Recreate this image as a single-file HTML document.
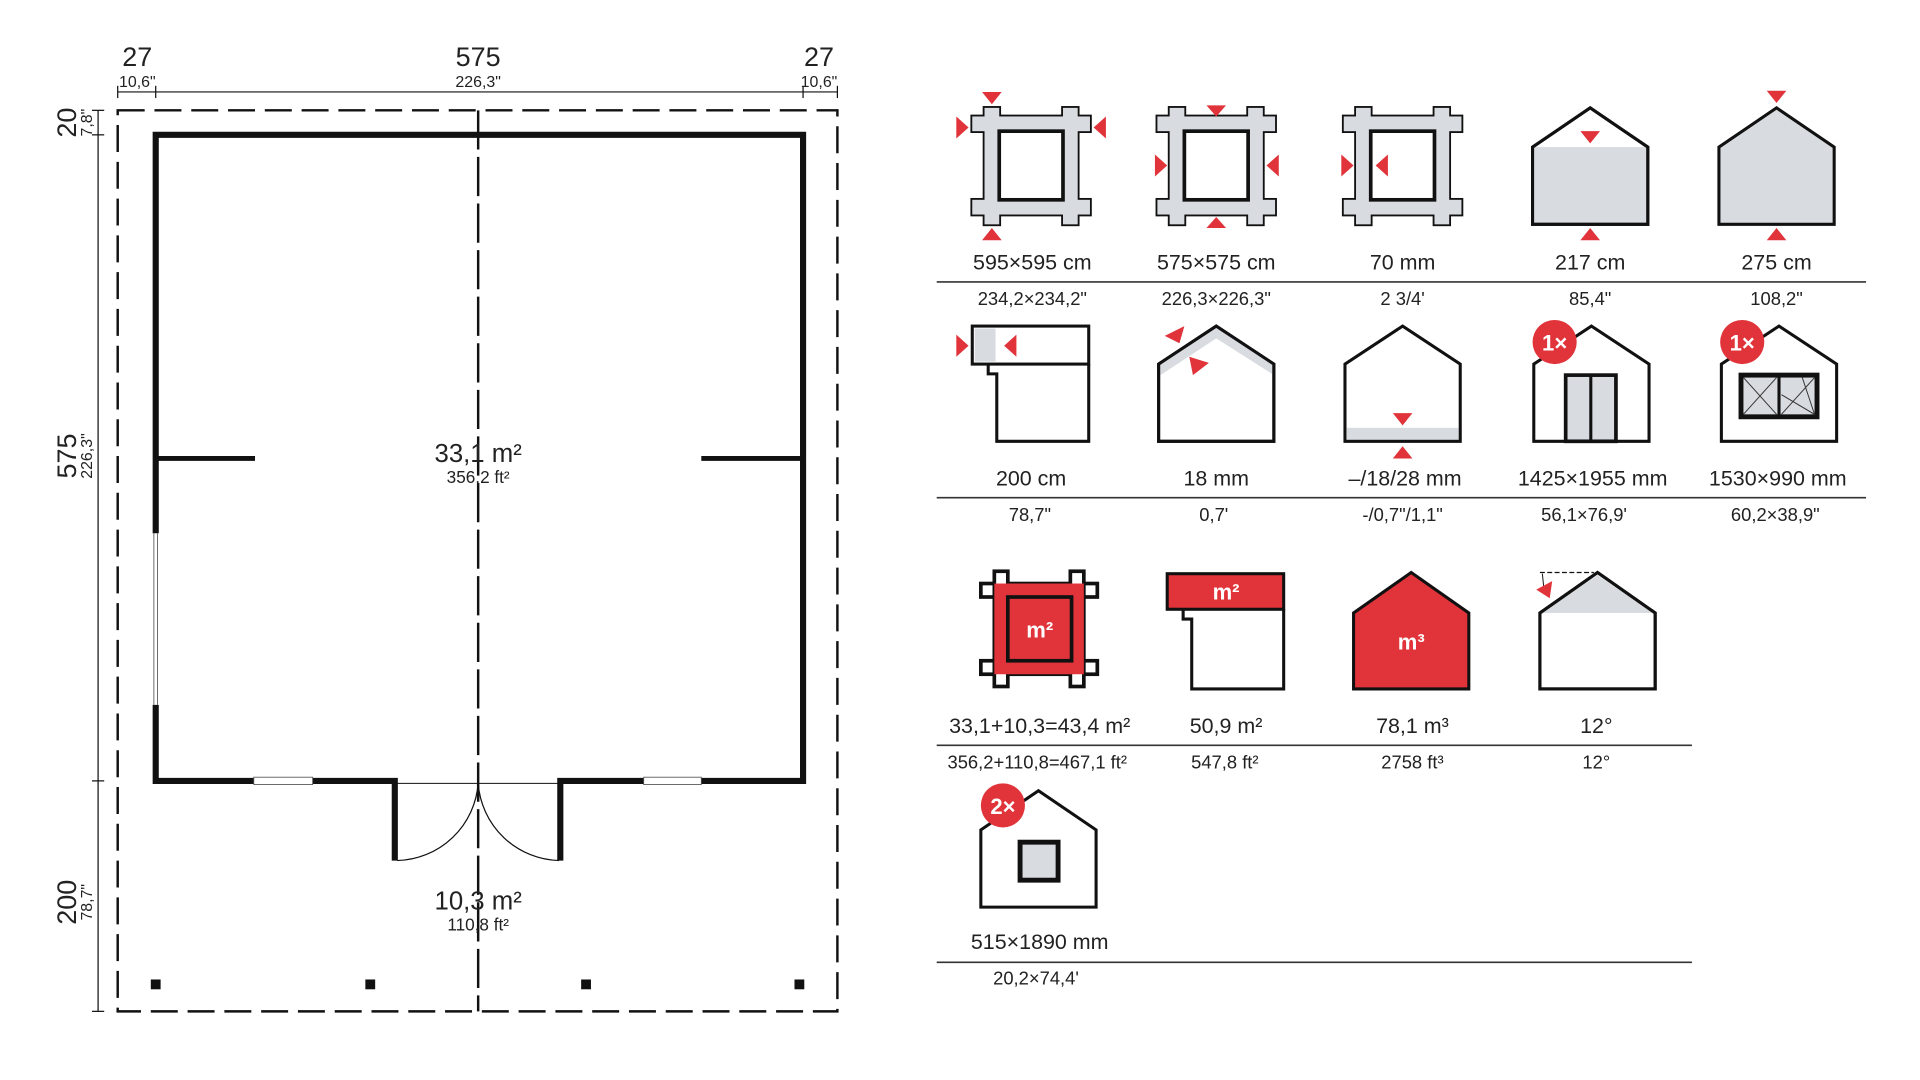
<!DOCTYPE html>
<html><head><meta charset="utf-8"><style>
html,body{margin:0;padding:0;background:#fff;}
svg{display:block;}
text{font-family:"Liberation Sans",sans-serif;fill:#222;}
</style></head><body>
<svg width="1920" height="1080" viewBox="0 0 1566 881" preserveAspectRatio="none" xmlns="http://www.w3.org/2000/svg">
<defs>
<g id="frame">
 <rect x="-48" y="7" width="96" height="12" fill="#d8dbe0" stroke="#111" stroke-width="3"/>
 <rect x="-48" y="75" width="96" height="12" fill="#d8dbe0" stroke="#111" stroke-width="3"/>
 <rect x="-38" y="0" width="12" height="95" fill="#d8dbe0" stroke="#111" stroke-width="3"/>
 <rect x="26" y="0" width="12" height="95" fill="#d8dbe0" stroke="#111" stroke-width="3"/>
 <rect x="-48" y="7" width="96" height="12" fill="#d8dbe0"/>
 <rect x="-48" y="75" width="96" height="12" fill="#d8dbe0"/>
 <rect x="-38" y="0" width="12" height="95" fill="#d8dbe0"/>
 <rect x="26" y="0" width="12" height="95" fill="#d8dbe0"/>
 <rect x="-26" y="19" width="52" height="56" fill="#fff" stroke="#111" stroke-width="3"/>
</g>
</defs>

<!-- ===== Floor plan ===== -->
<g stroke="#111" fill="none">
 <rect x="96" y="90" width="587" height="735" stroke-width="2" stroke-dasharray="22,8"/>
 <line x1="390" y1="90" x2="390" y2="825" stroke-width="2" stroke-dasharray="32,6"/>
 <line x1="96" y1="75" x2="683" y2="75" stroke-width="1"/>
 <line x1="96" y1="70" x2="96" y2="80" stroke-width="1"/>
 <line x1="127" y1="70" x2="127" y2="80" stroke-width="1"/>
 <line x1="655" y1="70" x2="655" y2="80" stroke-width="1"/>
 <line x1="683" y1="70" x2="683" y2="80" stroke-width="1"/>
 <line x1="80" y1="90" x2="80" y2="825" stroke-width="1"/>
 <line x1="75" y1="90" x2="85" y2="90" stroke-width="1"/>
 <line x1="75" y1="110" x2="85" y2="110" stroke-width="1"/>
 <line x1="75" y1="637" x2="85" y2="637" stroke-width="1"/>
 <line x1="75" y1="825" x2="85" y2="825" stroke-width="1"/>
 <path d="M322,702 V637 H127 V110 H655 V637 H457 V702" stroke-width="5" stroke-linejoin="miter"/>
 <line x1="127" y1="374" x2="208" y2="374" stroke-width="4"/>
 <line x1="572" y1="374" x2="655" y2="374" stroke-width="4"/>
 <line x1="322" y1="639" x2="457" y2="639" stroke-width="0.8"/>
 <path d="M390,639 A68,68 0 0 1 324,702" stroke-width="1"/>
 <path d="M390,639 A68,68 0 0 0 456,702" stroke-width="1"/>
</g>
<rect x="124" y="435" width="6" height="140" fill="#fff"/>
<line x1="125.5" y1="435" x2="125.5" y2="575" stroke="#555" stroke-width="0.7"/>
<line x1="128.5" y1="435" x2="128.5" y2="575" stroke="#555" stroke-width="0.7"/>
<rect x="207" y="634" width="48" height="6" fill="#fff" stroke="#555" stroke-width="0.7"/>
<rect x="525" y="634" width="47" height="6" fill="#fff" stroke="#555" stroke-width="0.7"/>
<g fill="#111">
 <rect x="123" y="799" width="8" height="8"/><rect x="298" y="799" width="8" height="8"/>
 <rect x="474" y="799" width="8" height="8"/><rect x="648" y="799" width="8" height="8"/>
</g>
<g text-anchor="middle">
 <text x="112" y="54" font-size="22">27</text><text x="112" y="71" font-size="13">10,6"</text>
 <text x="390" y="54" font-size="22">575</text><text x="390" y="71" font-size="13">226,3"</text>
 <text x="668" y="54" font-size="22">27</text><text x="668" y="71" font-size="13">10,6"</text>
 <text transform="translate(62,100) rotate(-90)" font-size="22">20</text>
 <text transform="translate(75,100) rotate(-90)" font-size="13">7,8"</text>
 <text transform="translate(62,372) rotate(-90)" font-size="22">575</text>
 <text transform="translate(75,372) rotate(-90)" font-size="13">226,3"</text>
 <text transform="translate(62,736) rotate(-90)" font-size="22">200</text>
 <text transform="translate(75,736) rotate(-90)" font-size="13">78,7"</text>
 <text x="390" y="377" font-size="21">33,1 m²</text><text x="390" y="394" font-size="14">356,2 ft²</text>
 <text x="390" y="742" font-size="21">10,3 m²</text><text x="390" y="759" font-size="14">110,8 ft²</text>
</g>

<!-- ===== Icons row 1 ===== -->
<use href="#frame" x="841" y="88"/>
<use href="#frame" x="992" y="88"/>
<use href="#frame" x="1144" y="88"/>
<g fill="#e0343a">
 <path d="M801,75 h16 l-8,10z"/><path d="M801,196 h16 l-8,-10z"/>
 <path d="M780,95 v18 l10,-9z"/><path d="M902,95 v18 l-10,-9z"/>
 <path d="M984,86 h16 l-8,9z"/><path d="M984,186 h16 l-8,-9z"/>
 <path d="M942,126 v18 l10,-9z"/><path d="M1043,126 v18 l-10,-9z"/>
 <path d="M1094,126 v18 l10,-9z"/><path d="M1132,126 v18 l-10,-9z"/>
</g>
<path d="M1250,183 V120 L1297,88 L1344,120 V183 Z" fill="#fff" stroke="#111" stroke-width="2.5"/>
<rect x="1251.5" y="120" width="91" height="61.5" fill="#d8dbe0"/>
<path d="M1250,183 V120 L1297,88 L1344,120 V183 Z" fill="none" stroke="#111" stroke-width="2.5"/>
<path d="M1402,183 V120 L1449,88 L1496,120 V183 Z" fill="#d8dbe0" stroke="#111" stroke-width="2.5"/>
<g fill="#e0343a">
 <path d="M1289,107 h16 l-8,10z"/><path d="M1289,196 h16 l-8,-10z"/>
 <path d="M1441,74 h16 l-8,10z"/><path d="M1441,196 h16 l-8,-10z"/>
</g>
<g text-anchor="middle" font-size="17.5">
 <text x="842" y="220">595×595 cm</text><text x="992" y="220">575×575 cm</text>
 <text x="1144" y="220">70 mm</text><text x="1297" y="220">217 cm</text><text x="1449" y="220">275 cm</text>
</g>
<line x1="764" y1="230" x2="1522" y2="230" stroke="#333" stroke-width="1.3"/>
<g text-anchor="middle" font-size="15">
 <text x="842" y="249">234,2×234,2"</text><text x="992" y="249">226,3×226,3"</text>
 <text x="1144" y="249">2  3/4'</text><text x="1297" y="249">85,4"</text><text x="1449" y="249">108,2"</text>
</g>

<!-- ===== Icons row 2 ===== -->
<rect x="793" y="266" width="95" height="31" fill="#fff" stroke="#111" stroke-width="2.5"/>
<rect x="795" y="268" width="17" height="27" fill="#d8dbe0"/>
<path d="M806,297 V305 H813 V360 H888 V297" fill="none" stroke="#111" stroke-width="2.5"/>
<g fill="#e0343a"><path d="M780,273 v18 l10,-9z"/><path d="M829,273 v18 l-10,-9z"/></g>

<path d="M945,297 V360 H1039 V297 L992,266 Z" fill="#fff" stroke="#111" stroke-width="2.5"/>
<path d="M946.5,297 L992,267.5 L1037.5,297 V305 L992,276 L946.5,306 Z" fill="#d8dbe0"/>
<path d="M945,297 V360 H1039 V297 L992,266 Z" fill="none" stroke="#111" stroke-width="2.5"/>
<g fill="#e0343a"><path d="M950,274 l16,-8 l-4,14z"/><path d="M970,291 l16,5 l-13,10z"/></g>

<path d="M1097,360 V297 L1144,266 L1191,297 V360 Z" fill="#fff" stroke="#111" stroke-width="2.5"/>
<rect x="1098.5" y="349" width="91" height="9.5" fill="#d8dbe0"/>
<g fill="#e0343a"><path d="M1136,337 h16 l-8,10z"/><path d="M1136,374 h16 l-8,-10z"/></g>

<path d="M1251,360 V297 L1298,266 L1345,297 V360 Z" fill="#fff" stroke="#111" stroke-width="2.5"/>
<rect x="1277" y="306" width="41" height="54" fill="#d8dbe0" stroke="#111" stroke-width="3"/>
<line x1="1297.5" y1="306" x2="1297.5" y2="360" stroke="#111" stroke-width="2.5"/>
<circle cx="1268" cy="279" r="18" fill="#e0343a"/>
<text x="1268" y="286" text-anchor="middle" font-size="18" font-weight="bold" style="fill:#fff">1×</text>

<path d="M1404,360 V297 L1451,266 L1498,297 V360 Z" fill="#fff" stroke="#111" stroke-width="2.5"/>
<rect x="1420" y="306" width="62" height="34" fill="#d8dbe0" stroke="#111" stroke-width="4"/>
<line x1="1451" y1="306" x2="1451" y2="340" stroke="#111" stroke-width="2.5"/>
<path d="M1422,308 L1449,338 M1449,308 L1422,338 M1453,338 L1480,308 M1453,322 L1480,338 L1470,308" fill="none" stroke="#333" stroke-width="0.8"/>
<circle cx="1421" cy="279" r="18" fill="#e0343a"/>
<text x="1421" y="286" text-anchor="middle" font-size="18" font-weight="bold" style="fill:#fff">1×</text>

<g text-anchor="middle" font-size="17.5">
 <text x="841" y="396">200 cm</text><text x="992" y="396">18 mm</text>
 <text x="1146" y="396">–/18/28 mm</text><text x="1299" y="396">1425×1955 mm</text><text x="1450" y="396">1530×990 mm</text>
</g>
<line x1="764" y1="406" x2="1522" y2="406" stroke="#333" stroke-width="1.3"/>
<g text-anchor="middle" font-size="15">
 <text x="840" y="425">78,7"</text><text x="990" y="425">0,7'</text>
 <text x="1144" y="425">-/0,7"/1,1"</text><text x="1292" y="425">56,1×76,9'</text><text x="1448" y="425">60,2×38,9"</text>
</g>

<!-- ===== Icons row 3 ===== -->
<g>
 <rect x="800" y="476" width="95" height="11" fill="#fff" stroke="#111" stroke-width="3"/>
 <rect x="800" y="539" width="95" height="11" fill="#fff" stroke="#111" stroke-width="3"/>
 <rect x="811" y="466" width="11" height="94" fill="#fff" stroke="#111" stroke-width="3"/>
 <rect x="873" y="466" width="11" height="94" fill="#fff" stroke="#111" stroke-width="3"/>
 <rect x="811" y="476" width="73" height="74" fill="#e0343a"/>
 <rect x="822" y="487" width="52" height="52" fill="#e0343a" stroke="#111" stroke-width="3"/>
 <text x="848" y="520" text-anchor="middle" font-size="18" font-weight="bold" style="fill:#fff">m²</text>
</g>
<rect x="952" y="468" width="95" height="29" fill="#e0343a" stroke="#111" stroke-width="2.5"/>
<text x="1000" y="489" text-anchor="middle" font-size="18" font-weight="bold" style="fill:#fff">m²</text>
<path d="M965,497 V505 H972 V562 H1047 V497" fill="none" stroke="#111" stroke-width="2.5"/>
<path d="M1104,562 V500 L1151,467 L1198,500 V562 Z" fill="#e0343a" stroke="#111" stroke-width="2.5"/>
<text x="1151" y="530" text-anchor="middle" font-size="18" font-weight="bold" style="fill:#fff">m³</text>
<path d="M1256,562 V500 L1303,467 L1350,500 V562 Z" fill="#fff" stroke="#111" stroke-width="2.5"/>
<path d="M1258,500 L1303,469 L1348,500 Z" fill="#d8dbe0"/>
<path d="M1256,562 V500 L1303,467 L1350,500 V562 Z" fill="none" stroke="#111" stroke-width="2.5"/>
<line x1="1256" y1="467" x2="1300" y2="467" stroke="#111" stroke-width="1" stroke-dasharray="4,2"/>
<line x1="1258" y1="468" x2="1259" y2="478" stroke="#111" stroke-width="0.8"/>
<path d="M1253,481 l13,-7 l-2,14z" fill="#e0343a"/>
<g text-anchor="middle" font-size="17.5">
 <text x="848" y="598">33,1+10,3=43,4 m²</text><text x="1000" y="598">50,9 m²</text>
 <text x="1152" y="598">78,1 m³</text><text x="1302" y="598">12°</text>
</g>
<line x1="764" y1="608" x2="1380" y2="608" stroke="#333" stroke-width="1.3"/>
<g text-anchor="middle" font-size="15">
 <text x="846" y="627">356,2+110,8=467,1 ft²</text><text x="999" y="627">547,8 ft²</text>
 <text x="1152" y="627">2758 ft³</text><text x="1302" y="627">12°</text>
</g>

<!-- ===== Row 4 ===== -->
<path d="M800,740 V677 L847,645 L894,677 V740 Z" fill="#fff" stroke="#111" stroke-width="2.5"/>
<rect x="832" y="687" width="31" height="31" fill="#d8dbe0" stroke="#111" stroke-width="4"/>
<circle cx="818" cy="657" r="18" fill="#e0343a"/>
<text x="818" y="664" text-anchor="middle" font-size="18" font-weight="bold" style="fill:#fff">2×</text>
<text x="848" y="774" text-anchor="middle" font-size="17.5">515×1890 mm</text>
<line x1="764" y1="785" x2="1380" y2="785" stroke="#333" stroke-width="1.3"/>
<text x="845" y="803" text-anchor="middle" font-size="15">20,2×74,4'</text>
</svg>
</body></html>
